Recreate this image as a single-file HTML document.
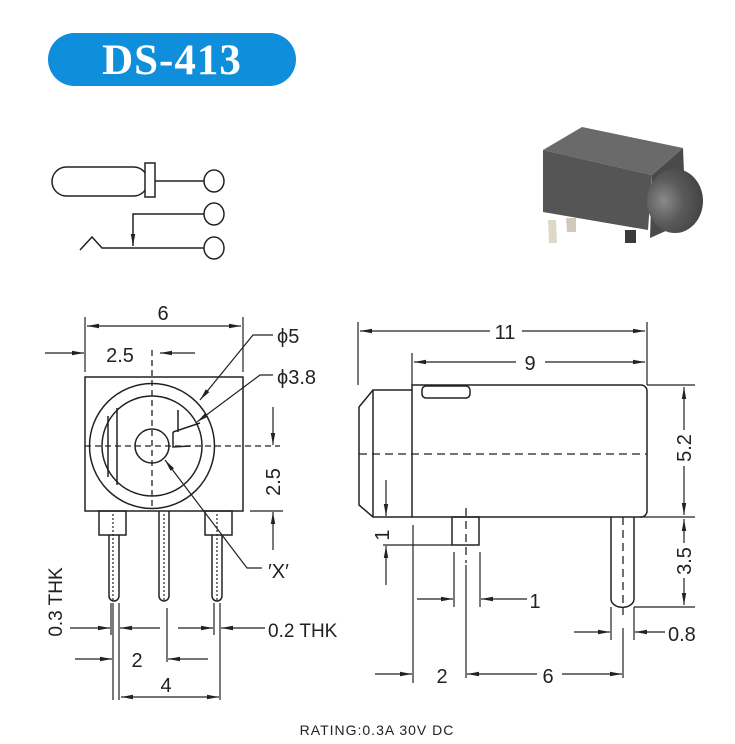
<!DOCTYPE html>
<html><head><meta charset="utf-8"><style>
html,body{margin:0;padding:0;background:#fff;width:735px;height:744px;overflow:hidden}
svg{display:block}
text{font-family:"Liberation Sans",sans-serif;fill:#222}
</style></head><body>
<svg width="735" height="744" viewBox="0 0 735 744" xmlns="http://www.w3.org/2000/svg">
<defs>
<marker id="a" viewBox="0 0 12 6" refX="12" refY="3" markerWidth="12" markerHeight="6" markerUnits="userSpaceOnUse" orient="auto"><path d="M0,0.8 L12,3 L0,5.2 Z" fill="#222"/></marker>
<radialGradient id="cyl" cx="0.3" cy="0.5" r="0.7"><stop offset="0" stop-color="#8a8a8a"/><stop offset="0.5" stop-color="#5a5a5a"/><stop offset="1" stop-color="#444"/></radialGradient>
</defs>
<!-- title -->
<rect x="48" y="33" width="248" height="53" rx="26.5" fill="#0f8fdb"/>
<text x="172" y="74" text-anchor="middle" style="font-family:'Liberation Serif',serif;font-weight:bold;font-size:43px;letter-spacing:1px;fill:#fff">DS-413</text>

<g stroke="#222" stroke-width="1.5" fill="none">
<!-- schematic -->
<rect x="52" y="167" width="96" height="29" rx="14.5"/>
<rect x="145" y="163" width="10" height="34" fill="#fff"/>
<line x1="155" y1="181" x2="204" y2="181"/>
<ellipse cx="214" cy="181" rx="10" ry="11"/>
<ellipse cx="214" cy="214" rx="10" ry="11"/>
<ellipse cx="214" cy="248" rx="10" ry="11"/>
<polyline points="204,214 133,214 133,246" marker-end="url(#a)"/>
<polyline points="80,250 92,237 102,248 204,248"/>

<!-- front view -->
<rect x="85" y="377" width="158" height="134"/>
<circle cx="152" cy="446" r="62.5"/>
<circle cx="152" cy="446" r="50"/>
<circle cx="152" cy="446" r="17"/>
<line x1="108" y1="416" x2="108" y2="477"/>
<line x1="117" y1="408" x2="117" y2="485"/>
<path d="M178,410 V432 M173,432 V447 L190,446 M173,432 L200,423"/>
<rect x="99" y="511" width="27" height="24"/>
<rect x="205" y="511" width="27" height="24"/>
<path d="M109,535 V596 a5,5 0 0 0 10,0 V535"/>
<path d="M159,511 V596 a5,5 0 0 0 10,0 V511"/>
<path d="M212,535 V596 a5,5 0 0 0 10,0 V535"/>
</g>
<g stroke="#222" stroke-width="1.3" fill="none" stroke-dasharray="6,4">
<line x1="85" y1="446" x2="280" y2="446"/>
<line x1="152" y1="350" x2="152" y2="508"/>
</g>
<g stroke="#222" stroke-width="1.2" fill="none" stroke-dasharray="2,2">
<line x1="113" y1="514" x2="113" y2="600"/>
<line x1="164" y1="514" x2="164" y2="600"/>
<line x1="217" y1="514" x2="217" y2="600"/>
</g>
<g stroke="#222" stroke-width="1.2" fill="none">
<line x1="85" y1="317" x2="85" y2="372"/>
<line x1="243" y1="317" x2="243" y2="372"/>
<line x1="164" y1="326" x2="87" y2="326" marker-end="url(#a)"/>
<line x1="164" y1="326" x2="241" y2="326" marker-end="url(#a)"/>
<line x1="45" y1="353" x2="84" y2="353" marker-end="url(#a)"/>
<line x1="195" y1="353" x2="160" y2="353" marker-end="url(#a)"/>
<polyline points="273,335 253,335 200,400" marker-end="url(#a)"/>
<polyline points="273,375 260,375 197,422" marker-end="url(#a)"/>
<polyline points="262,568 247,568 165,460" marker-end="url(#a)"/>
<line x1="250" y1="511" x2="283" y2="511"/>
<line x1="273" y1="407" x2="273" y2="445" marker-end="url(#a)"/>
<line x1="273" y1="550" x2="273" y2="512" marker-end="url(#a)"/>
<line x1="111" y1="603" x2="111" y2="635"/>
<line x1="119" y1="603" x2="119" y2="700"/>
<line x1="214" y1="603" x2="214" y2="635"/>
<line x1="220" y1="603" x2="220" y2="700"/>
<line x1="167" y1="608" x2="167" y2="662"/>
<line x1="70" y1="628" x2="110" y2="628" marker-end="url(#a)"/>
<line x1="160" y1="628" x2="120" y2="628" marker-end="url(#a)"/>
<line x1="178" y1="628" x2="213" y2="628" marker-end="url(#a)"/>
<line x1="265" y1="628" x2="221" y2="628" marker-end="url(#a)"/>
<line x1="75" y1="659" x2="112" y2="659" marker-end="url(#a)"/>
<line x1="208" y1="659" x2="168" y2="659" marker-end="url(#a)"/>
<line x1="113" y1="603" x2="113" y2="700"/>
<line x1="166" y1="697" x2="121" y2="697" marker-end="url(#a)"/>
<line x1="166" y1="697" x2="219" y2="697" marker-end="url(#a)"/>
</g>
<g font-size="20">
<text x="163" y="320" text-anchor="middle">6</text>
<text x="120" y="362" text-anchor="middle">2.5</text>
<text x="277" y="343">ϕ5</text>
<text x="277" y="384">ϕ3.8</text>
<text x="268" y="578">′X′</text>
<text x="268" y="637" font-size="19">0.2 THK</text>
<text x="137" y="667" text-anchor="middle">2</text>
<text x="166" y="692" text-anchor="middle">4</text>
<text transform="translate(280,482) rotate(-90)" text-anchor="middle">2.5</text>
<text transform="translate(62,602) rotate(-90)" text-anchor="middle" font-size="19">0.3 THK</text>
</g>

<!-- side view -->
<g stroke="#222" stroke-width="1.5" fill="none">
<path d="M412,385 H641 a6,6 0 0 1 6,6 V511 a6,6 0 0 1 -6,6 H412 Z"/>
<rect x="422" y="386" width="48" height="12" rx="4"/>
<polyline points="412,390 373,390 359,407 359,505 373,517 412,517"/>
<line x1="373" y1="390" x2="373" y2="517"/>
<rect x="452" y="517" width="27" height="28"/>
<path d="M611,517 V599 a11,8 0 0 0 23,0 V517"/>
</g>
<g stroke="#222" stroke-width="1.3" fill="none" stroke-dasharray="8,5">
<line x1="359" y1="454" x2="647" y2="454"/>
<line x1="466" y1="508" x2="466" y2="563"/>
<line x1="623" y1="517" x2="623" y2="615"/>
</g>
<g stroke="#222" stroke-width="1.2" fill="none">
<line x1="358" y1="322" x2="358" y2="385"/>
<line x1="647" y1="322" x2="647" y2="385"/>
<line x1="490" y1="331" x2="360" y2="331" marker-end="url(#a)"/>
<line x1="522" y1="331" x2="645" y2="331" marker-end="url(#a)"/>
<line x1="412" y1="353" x2="412" y2="385"/>
<line x1="516" y1="362" x2="414" y2="362" marker-end="url(#a)"/>
<line x1="545" y1="362" x2="645" y2="362" marker-end="url(#a)"/>
<line x1="386" y1="480" x2="386" y2="516" marker-end="url(#a)"/>
<line x1="383" y1="545" x2="452" y2="545"/>
<line x1="386" y1="585" x2="386" y2="546" marker-end="url(#a)"/>
<line x1="413" y1="525" x2="413" y2="683"/>
<line x1="454" y1="552" x2="454" y2="607"/>
<line x1="480" y1="552" x2="480" y2="607"/>
<line x1="417" y1="599" x2="453" y2="599" marker-end="url(#a)"/>
<line x1="527" y1="599" x2="481" y2="599" marker-end="url(#a)"/>
<line x1="466" y1="565" x2="466" y2="678"/>
<line x1="375" y1="674" x2="412" y2="674" marker-end="url(#a)"/>
<line x1="537" y1="674" x2="467" y2="674" marker-end="url(#a)"/>
<line x1="562" y1="674" x2="622" y2="674" marker-end="url(#a)"/>
<line x1="611" y1="607" x2="611" y2="640"/>
<line x1="634" y1="607" x2="634" y2="640"/>
<line x1="623" y1="628" x2="623" y2="678"/>
<line x1="574" y1="632" x2="610" y2="632" marker-end="url(#a)"/>
<line x1="665" y1="632" x2="635" y2="632" marker-end="url(#a)"/>
<line x1="647" y1="385" x2="695" y2="385"/>
<line x1="640" y1="517" x2="695" y2="517"/>
<line x1="634" y1="607" x2="695" y2="607"/>
<line x1="684" y1="430" x2="684" y2="387" marker-end="url(#a)"/>
<line x1="684" y1="466" x2="684" y2="515" marker-end="url(#a)"/>
<line x1="684" y1="543" x2="684" y2="519" marker-end="url(#a)"/>
<line x1="684" y1="578" x2="684" y2="605" marker-end="url(#a)"/>
</g>
<g font-size="20">
<text x="505" y="339" text-anchor="middle">11</text>
<text x="530" y="370" text-anchor="middle">9</text>
<text x="535" y="608" text-anchor="middle">1</text>
<text x="442" y="683" text-anchor="middle">2</text>
<text x="548" y="683" text-anchor="middle">6</text>
<text x="668" y="641">0.8</text>
<text transform="translate(389,535) rotate(-90)" text-anchor="middle">1</text>
<text transform="translate(691,448) rotate(-90)" text-anchor="middle">5.2</text>
<text transform="translate(691,561) rotate(-90)" text-anchor="middle">3.5</text>
</g>

<!-- photo -->
<g>
<polygon points="548,220 556,220 557,243 549,243" fill="#ddd8c8"/>
<polygon points="566,218 576,218 576,232 567,232" fill="#cfcabb"/>
<rect x="625" y="230" width="11" height="13" fill="#3a3a3a"/>
<polygon points="543,150 582,127 683,148 652,175" fill="#6a6a6a"/>
<polygon points="543,150 652,175 648,230 543,212" fill="#555"/>
<polygon points="652,175 683,148 686,222 650,238" fill="#4a4a4a"/>
<ellipse cx="675" cy="201" rx="28" ry="32" fill="url(#cyl)"/>
</g>

<text x="377" y="735" text-anchor="middle" font-size="14" letter-spacing="1">RATING:0.3A 30V DC</text>
</svg>
</body></html>
